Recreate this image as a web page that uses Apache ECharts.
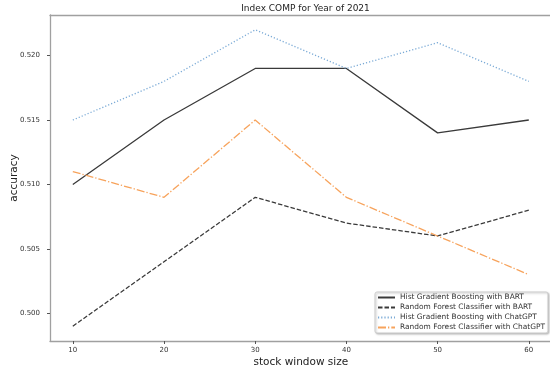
<!DOCTYPE html>
<html><head><meta charset="utf-8">
<script src="https://cdn.jsdelivr.net/npm/echarts@6/dist/echarts.min.js"></script>
<style>html,body{margin:0;padding:0;background:#fff}#c{width:550px;height:372px}</style>
</head><body><div id="c"></div>
<script>
const windowSizes = [10, 20, 30, 40, 50, 60];
const hgbBart = [0.510, 0.515, 0.519, 0.519, 0.514, 0.515];
const rfBart = [0.499, 0.504, 0.509, 0.507, 0.506, 0.508];
const hgbChatGPT = [0.515, 0.518, 0.522, 0.519, 0.521, 0.518];
const rfChatGPT = [0.511, 0.509, 0.515, 0.509, 0.506, 0.503];
const seriesNames = ['Hist Gradient Boosting with BART', 'Random Forest Classifier with BART', 'Hist Gradient Boosting with ChatGPT', 'Random Forest Classifier with ChatGPT'];
const xTicks = [10, 20, 30, 40, 50, 60];
const yTicks = [0.500, 0.505, 0.510, 0.515, 0.520];

const pair = arr => windowSizes.map((x, i) => [x, arr[i]]);
const font = 'DejaVu Sans';
const spine = { show: true, lineStyle: { color: '#a0a0a0', width: 1.3 } };
const mk = (name, arr, color, type, width) => ({
  name, type: 'line', data: pair(arr), symbol: 'none', silent: true,
  lineStyle: { color, type, width }, itemStyle: { color }
});
const chart = echarts.init(document.getElementById('c'), null, { renderer: 'canvas' });
chart.setOption({
  animation: false,
  title: { text: 'Index COMP for Year of 2021', left: 300.5, textAlign: 'center', top: -1,
    textStyle: { fontFamily: font, fontSize: 9, fontWeight: 'normal', color: '#222' } },
  grid: { left: 50, top: 15, width: 501.6, bottom: 31, outerBoundsMode: 'none', containLabel: false, show: false },
  xAxis: [{ type: 'value', min: 7.5, max: 62.5,
    name: 'stock window size', nameLocation: 'middle', nameGap: 16, nameMoveOverlap: false,
    nameTextStyle: { fontFamily: font, fontSize: 10.5, color: '#222' },
    axisLine: spine,
    axisTick: { show: true, length: 3, lineStyle: { color: '#555' }, customValues: xTicks },
    axisLabel: { fontFamily: font, fontSize: 7, color: '#333', margin: 6, customValues: xTicks, formatter: v => String(v) },
    splitLine: { show: false } },
    { type: 'value', position: 'top', min: 7.5, max: 62.5, axisLine: spine,
      axisTick: { show: false }, axisLabel: { show: false }, splitLine: { show: false } }],
  yAxis: { type: 'value', min: 0.49785, max: 0.52315,
    name: 'accuracy', nameLocation: 'middle', nameGap: 30, nameRotate: 90, nameMoveOverlap: false,
    nameTextStyle: { fontFamily: font, fontSize: 10.5, color: '#222' },
    axisLine: spine,
    axisTick: { show: true, length: 3, lineStyle: { color: '#555' }, customValues: yTicks },
    axisLabel: { fontFamily: font, fontSize: 7, color: '#333', margin: 10, customValues: yTicks, formatter: v => v.toFixed(3) },
    splitLine: { show: false } },
  legend: { orient: 'vertical', left: 375, top: 292, data: seriesNames,
    itemWidth: 17, itemHeight: 8, itemGap: 3, padding: [2, 3, 2, 2],
    itemStyle: { opacity: 0 },
    backgroundColor: '#fff', borderColor: '#ccc', borderWidth: 1, borderRadius: 2,
    shadowColor: 'rgba(0,0,0,0.25)', shadowBlur: 2, shadowOffsetX: 1, shadowOffsetY: 1,
    textStyle: { fontFamily: font, fontSize: 7.45, color: '#333' } },
  series: [
    mk(seriesNames[0], hgbBart, '#3a3a3a', 'solid', 1.3),
    mk(seriesNames[1], rfBart, '#3a3a3a', [4.5, 2], 1.3),
    mk(seriesNames[2], hgbChatGPT, '#7aaad6', [1.2, 2], 1.3),
    mk(seriesNames[3], rfChatGPT, '#f7a35c', [8, 2, 1.3, 2], 1.3)
  ]
});
</script></body></html>
